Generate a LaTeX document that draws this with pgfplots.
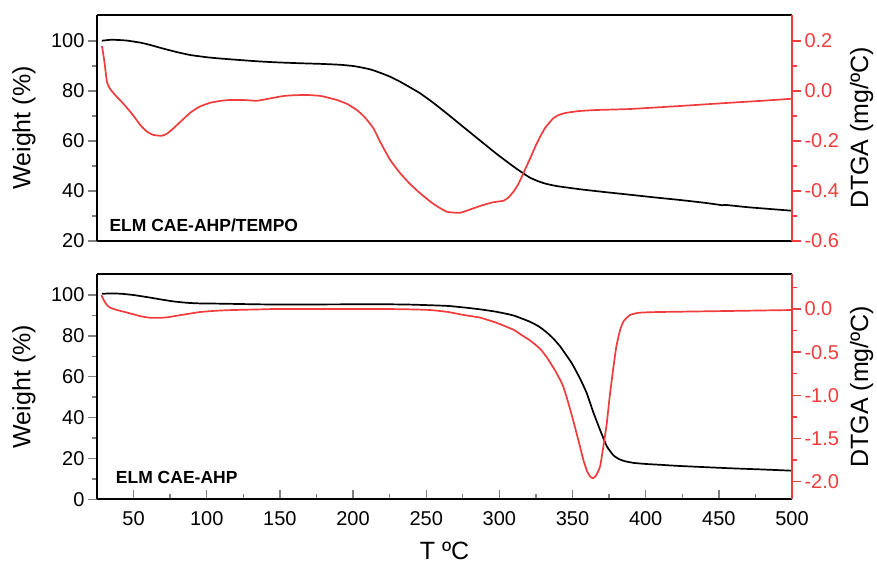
\documentclass[border=0pt]{standalone}
\usepackage{fontspec}
\setmainfont{Liberation Sans}
\usepackage{pgfplots}
\pgfplotsset{compat=1.18}
\definecolor{dred}{RGB}{240,60,60}
\pgfplotsset{
  every non boxed y axis/.append style={y axis line style={-}, ytick align=outside},
  base/.style={
    scale only axis, width=695pt,
    xmin=25, xmax=500,
    tick label style={font=\fontsize{20}{23}\selectfont},
    /pgf/number format/assume math mode=true,
    major tick length=9pt, minor tick length=5pt,
    every tick/.append style={line width=1.4pt},
    axis line style={line width=1.7pt},
    clip=true,
  },
  leftax/.style={base,
    axis x line*=box, axis y line*=left,
    ytick pos=left, ytick align=outside,
    every axis y label/.style={at={([xshift=-73pt]axis description cs:0,0.5)}, rotate=90, anchor=center, font=\fontsize{25}{30}\selectfont},
  },
  rightax/.style={base,
    axis x line=none, axis y line*=right,
    ytick pos=right, ytick align=outside,
    y axis line style={dred},
    ytick style={dred},
    yticklabel style={dred},
    /pgf/number format/.cd, fixed, fixed zerofill, precision=1, assume math mode=true, /pgfplots/.cd,
    every axis y label/.style={at={([xshift=69.7pt]axis description cs:1,0.5)}, rotate=90, anchor=center, font=\fontsize{25}{30}\selectfont, text=black},
  },
}
\begin{document}
\begin{tikzpicture}
\path[use as bounding box] (-97pt,-64.7pt) rectangle (780pt,499.3pt);
% ---------------- top panel ----------------
\begin{axis}[leftax, at={(0pt,258.3pt)}, anchor=south west, height=226pt,
  ymin=20, ymax=110.4, ytick={20,40,60,80,100}, minor ytick={30,50,70,90},
  xtick=\empty, ylabel={Weight (\%)}]
\addplot[black, line width=1.7pt, smooth, tension=0.3] coordinates {
(28.4,100.1) (35,100.5) (45,100.2) (55,99.3) (61.4,98.4) (70,97.0) (80,95.5) (88.7,94.4) (100,93.5) (109,93.0) (120,92.5) (136.5,91.8) (150,91.4) (163.9,91.1) (180,90.8) (191,90.5) (200,90.0) (205,89.5) (212,88.6) (218.5,87.3) (225,85.8) (232.2,83.7) (240,81.1) (245.8,79.1) (255,75.2) (264.1,71.0) (275,65.8) (286.8,60.2) (298,54.9) (309.6,49.8) (316,47.2) (321,45.3) (327,43.8) (332.4,42.8) (340,41.9) (355,40.7) (370,39.7) (389.3,38.5) (405,37.5) (423.5,36.4) (440,35.3) (450,34.5) (452,34.3) (455,34.4) (470,33.5) (485,32.8) (500,32.1)
};
\node[anchor=base west, inner sep=0pt, font=\bfseries\fontsize{17.5}{20}\selectfont] at (axis description cs:0.0177,0.040) {ELM CAE-AHP/TEMPO};
\end{axis}
\begin{axis}[rightax, at={(0pt,258.3pt)}, anchor=south west, height=226pt,
  ymin=-0.6, ymax=0.304, ytick={-0.6,-0.4,-0.2,0,0.2}, minor ytick={-0.5,-0.3,-0.1,0.1},
  ylabel={DTGA (mg/ºC)}]
\addplot[dred, line width=1.7pt, smooth, tension=0.3] coordinates {
(28.4,0.18) (30,0.12) (31.8,0.037) (34,0.008) (38,-0.02) (43.2,-0.052) (49,-0.092) (54.6,-0.136) (59,-0.162) (63.7,-0.176) (69.4,-0.179) (73,-0.17) (77.3,-0.149) (83,-0.118) (88.7,-0.087) (95,-0.063) (102.4,-0.047) (110,-0.039) (116,-0.036) (125,-0.036) (134.3,-0.039) (143,-0.030) (152.5,-0.02) (160,-0.017) (168.5,-0.016) (178,-0.020) (189,-0.036) (196,-0.052) (202.6,-0.076) (208,-0.105) (214,-0.15) (218.5,-0.203) (225.4,-0.276) (232.2,-0.329) (239,-0.372) (245.8,-0.409) (255,-0.452) (264.1,-0.483) (273.2,-0.487) (280,-0.474) (286.8,-0.46) (295,-0.446) (302.8,-0.439) (306,-0.427) (309.6,-0.403) (313,-0.372) (316.4,-0.329) (321,-0.27) (325.6,-0.209) (331,-0.15) (336.9,-0.109) (341,-0.095) (346,-0.087) (355,-0.08) (366.6,-0.076) (389.3,-0.072) (423.5,-0.06) (457.6,-0.047) (480,-0.039) (500,-0.031)
};
\end{axis}
% ---------------- bottom panel ----------------
\begin{axis}[leftax, at={(0pt,0pt)}, anchor=south west, height=225.3pt,
  ymin=0, ymax=110.3, ytick={0,20,40,60,80,100}, minor ytick={10,30,50,70,90},
  xtick={50,100,...,500}, minor xtick={75,125,...,475},
  xtick pos=bottom, xtick align=inside,
  xticklabel style={yshift=-9pt},
  ylabel={Weight (\%)},
  xlabel={T ºC},
  every axis x label/.style={at={([yshift=-60pt]axis description cs:0.5,0)}, anchor=base, inner sep=0pt, font=\fontsize{25}{30}\selectfont}]
\addplot[black, line width=1.7pt, smooth, tension=0.3] coordinates {
(28.4,100.6) (35,100.8) (42,100.6) (50,100.0) (60,98.9) (68.2,97.9) (77,96.9) (86.5,96.2) (95,95.9) (107,95.8) (141,95.4) (175,95.4) (218.5,95.5) (240,95.3) (264,94.7) (276,93.9) (286.8,93.0) (298,91.8) (309.6,90.0) (321,86.9) (327,84.6) (332.4,81.7) (337,78.6) (341.5,74.9) (345.5,70.8) (349.5,66.6) (355,59.3) (359.7,52) (364,43) (368.8,34) (373.4,26) (378,21.5) (382,19.6) (386,18.6) (392,17.8) (400,17.3) (409.8,16.9) (423.5,16.3) (457.6,15.2) (480,14.6) (500,14.0)
};
\node[anchor=base west, inner sep=0pt, font=\bfseries\fontsize{17.5}{20}\selectfont] at (axis description cs:0.027,0.071) {ELM CAE-AHP};
\end{axis}
\begin{axis}[rightax, at={(0pt,0pt)}, anchor=south west, height=225.3pt,
  ymin=-2.204, ymax=0.405, ytick={-2,-1.5,-1,-0.5,0}, minor ytick={-1.75,-1.25,-0.75,-0.25,0.25},
  ylabel={DTGA (mg/ºC)}]
\addplot[dred, line width=1.7pt, smooth, tension=0.3] coordinates {
(28,0.16) (30,0.09) (31.8,0.046) (34,0.015) (38.7,-0.012) (44,-0.035) (50,-0.062) (55,-0.085) (61.4,-0.102) (67,-0.103) (72.8,-0.097) (80,-0.077) (88,-0.055) (95.6,-0.035) (107,-0.02) (118.3,-0.012) (141,-0.003) (150,0) (218.5,0) (240,-0.005) (252.6,-0.012) (265,-0.035) (275.4,-0.069) (286.8,-0.1) (298,-0.16) (309.6,-0.24) (315,-0.3) (321,-0.365) (327.8,-0.46) (332.4,-0.56) (338,-0.71) (341.5,-0.82) (343.7,-0.9) (347,-1.08) (350.6,-1.3) (354,-1.52) (357.4,-1.749) (360,-1.88) (362,-1.94) (364,-1.96) (366,-1.93) (368.8,-1.826) (371,-1.6) (373.4,-1.324) (375.5,-1.0) (378,-0.668) (380,-0.43) (382.5,-0.243) (385,-0.14) (389.3,-0.069) (395,-0.045) (400.7,-0.039) (409.8,-0.035) (450,-0.025) (500,-0.012)
};
\end{axis}
\end{tikzpicture}
\end{document}
